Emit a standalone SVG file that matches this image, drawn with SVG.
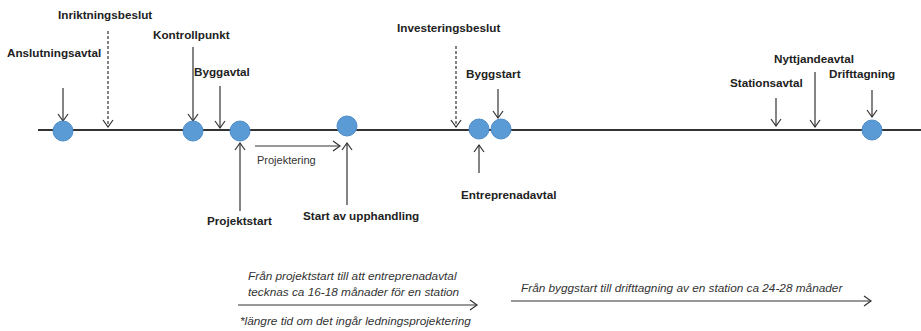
<svg xmlns="http://www.w3.org/2000/svg" width="921" height="331" viewBox="0 0 921 331">
<defs>
<marker id="ah" markerWidth="12" markerHeight="12" refX="8" refY="6" orient="auto" markerUnits="userSpaceOnUse">
<path d="M1,1 L8,6 L1,11" fill="none" stroke="#333" stroke-width="1.2"/>
</marker>
<style>
.lbl{font-family:"Liberation Sans",Arial,sans-serif;font-weight:bold;font-size:11.7px;fill:#222}
.it{font-family:"Liberation Sans",Arial,sans-serif;font-style:italic;font-size:11.8px;fill:#333}
.sm{font-family:"Liberation Sans",Arial,sans-serif;font-size:11px;fill:#333}
.ar{stroke:#333;stroke-width:1.2;fill:none;marker-end:url(#ah)}
.da{stroke:#333;stroke-width:1.2;fill:none;stroke-dasharray:3,2;marker-end:url(#ah)}
.dot{fill:#5B9BD5;stroke:#4F8CC9;stroke-width:1}
</style>
</defs>
<g id="timeline">
<line x1="38" y1="130" x2="921" y2="130" stroke="#333" stroke-width="2"/>
</g>
<g id="connectors">
<line class="ar" x1="63" y1="88" x2="63" y2="121"/>
<line class="da" x1="108" y1="31" x2="108" y2="127"/>
<line class="ar" x1="193" y1="47" x2="193" y2="121"/>
<line class="ar" x1="220" y1="86" x2="220" y2="128"/>
<line class="ar" x1="240" y1="211" x2="240" y2="143"/>
<line class="ar" x1="255" y1="146" x2="340" y2="146"/>
<line class="ar" x1="347" y1="205" x2="347" y2="143"/>
<line class="da" x1="456" y1="46" x2="456" y2="127"/>
<line class="ar" x1="498" y1="89" x2="498" y2="118"/>
<line class="ar" x1="479" y1="173" x2="479" y2="145"/>
<line class="ar" x1="776" y1="98" x2="776" y2="126"/>
<line class="ar" x1="815" y1="72" x2="815" y2="127"/>
<line class="ar" x1="872" y1="90" x2="872" y2="117"/>
<line class="ar" x1="238" y1="305" x2="477" y2="305"/>
<line class="ar" x1="511" y1="301" x2="871" y2="301"/>
</g>
<g id="dots">
<circle class="dot" cx="63" cy="131" r="10"/>
<circle class="dot" cx="193" cy="131" r="10"/>
<circle class="dot" cx="240" cy="131" r="10"/>
<circle class="dot" cx="347" cy="126" r="10"/>
<circle class="dot" cx="479" cy="129" r="10"/>
<circle class="dot" cx="501" cy="129" r="10"/>
<circle class="dot" cx="872" cy="130" r="10"/>
</g>
<g id="anslutningsavtal"><text class="lbl" x="7" y="57">Anslutningsavtal</text></g>
<g id="inriktningsbeslut"><text class="lbl" x="58" y="19">Inriktningsbeslut</text></g>
<g id="kontrollpunkt"><text class="lbl" x="153" y="39">Kontrollpunkt</text></g>
<g id="byggavtal"><text class="lbl" x="194" y="76">Byggavtal</text></g>
<g id="projektstart"><text class="lbl" x="207" y="225">Projektstart</text></g>
<g id="projektering"><text class="sm" x="257" y="164">Projektering</text></g>
<g id="start-upphandling"><text class="lbl" x="303" y="220">Start av upphandling</text></g>
<g id="investeringsbeslut"><text class="lbl" x="397" y="32">Investeringsbeslut</text></g>
<g id="byggstart"><text class="lbl" x="466" y="78">Byggstart</text></g>
<g id="entreprenadavtal"><text class="lbl" x="461" y="199">Entreprenadavtal</text></g>
<g id="stationsavtal"><text class="lbl" x="730" y="87">Stationsavtal</text></g>
<g id="nyttjandeavtal"><text class="lbl" x="774" y="63">Nyttjandeavtal</text></g>
<g id="drifttagning"><text class="lbl" x="829" y="78">Drifttagning</text></g>
<g id="note1">
<text class="it" x="248" y="280">Från projektstart till att entreprenadavtal</text>
<text class="it" x="248" y="296">tecknas ca 16-18 månader för en station</text>
<text class="it" x="240" y="325">*längre tid om det ingår ledningsprojektering</text>
</g>
<g id="note2"><text class="it" x="521" y="292">Från byggstart till drifttagning av en station ca 24-28 månader</text></g>
</svg>
